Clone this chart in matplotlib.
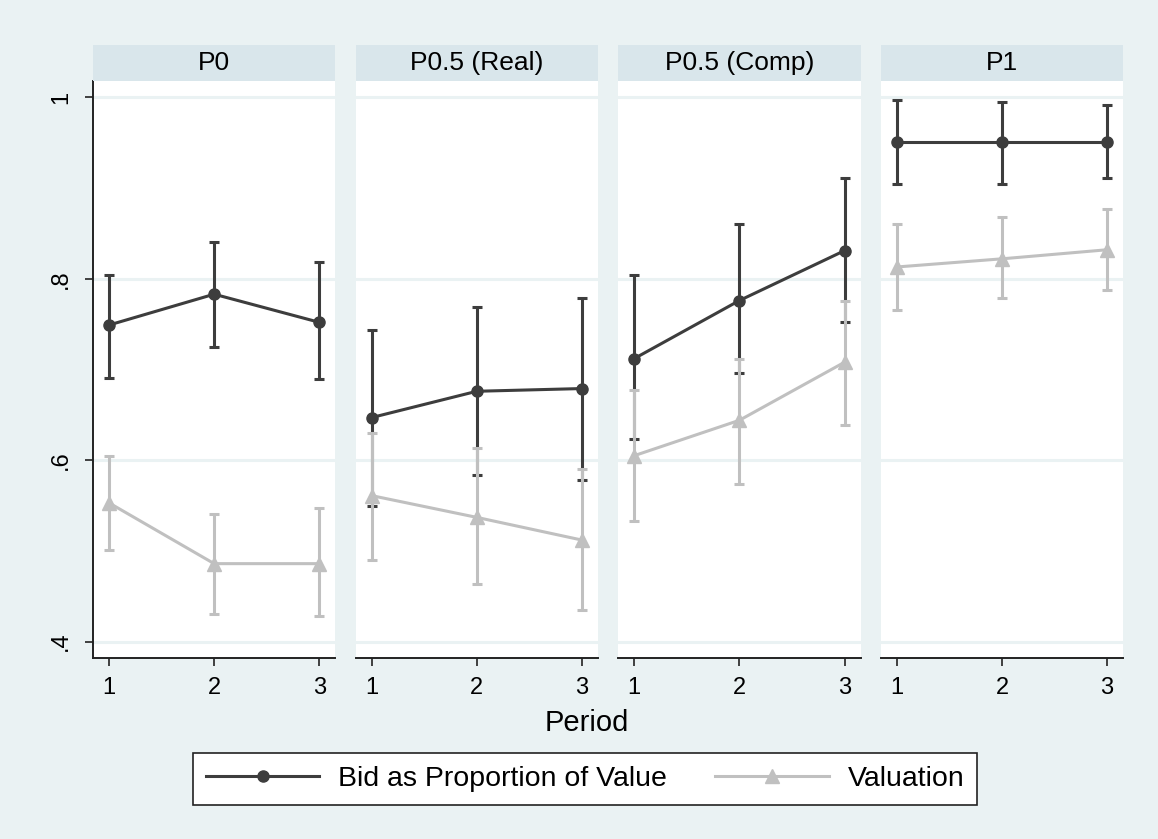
import numpy as np
import matplotlib.pyplot as plt
from matplotlib.patches import Rectangle
from matplotlib.lines import Line2D

plt.rcParams['font.family'] = ['Liberation Sans', 'DejaVu Sans']

# Mean bid / valuation by period, with 95% intervals, for each treatment
panels = ["P0", "P0.5 (Real)", "P0.5 (Comp)", "P1"]
periods = [1, 2, 3]

bid_mean = [
    [0.749, 0.783, 0.752],
    [0.647, 0.676, 0.679],
    [0.712, 0.776, 0.831],
    [0.951, 0.951, 0.951],
]
bid_lo = [
    [0.691, 0.725, 0.689],
    [0.550, 0.584, 0.578],
    [0.623, 0.696, 0.752],
    [0.905, 0.904, 0.911],
]
bid_hi = [
    [0.804, 0.840, 0.819],
    [0.743, 0.769, 0.779],
    [0.804, 0.860, 0.911],
    [0.997, 0.995, 0.992],
]

val_mean = [
    [0.553, 0.486, 0.486],
    [0.561, 0.537, 0.512],
    [0.605, 0.644, 0.708],
    [0.813, 0.822, 0.832],
]
val_lo = [
    [0.501, 0.430, 0.428],
    [0.490, 0.464, 0.435],
    [0.533, 0.574, 0.639],
    [0.766, 0.779, 0.788],
]
val_hi = [
    [0.605, 0.541, 0.547],
    [0.630, 0.613, 0.590],
    [0.677, 0.712, 0.776],
    [0.860, 0.868, 0.877],
]

BG = "#eaf2f3"
STRIP = "#d9e6eb"
DARK = "#3d3d3d"
LIGHT = "#c0c0c0"
LW = 2.2

W, H = 1158, 839
fig = plt.figure(figsize=(W / 100, H / 100), dpi=100)
fig.patch.set_facecolor(BG)

left0, pw, gap = 93, 242.3, 20.3
top, bottom = 81, 658
strip_top = 45

for i, name in enumerate(panels):
    x0 = left0 + i * (pw + gap)
    ax = fig.add_axes([x0 / W, 1 - bottom / H, pw / W, (bottom - top) / H])
    ax.set_facecolor("white")
    ax.set_xlim(0.848, 3.152)
    ax.set_ylim(0.382, 1.018)
    for v in [0.4, 0.6, 0.8, 1.0]:
        ax.axhline(v, color=BG, lw=2.2, zorder=0)

    # bids first, valuations drawn on top
    b = np.array(bid_mean[i])
    ax.errorbar(periods, b, yerr=[b - np.array(bid_lo[i]), np.array(bid_hi[i]) - b],
                color=DARK, lw=LW, elinewidth=LW, capsize=3.8, capthick=LW,
                marker="o", markersize=8, zorder=3)
    v_ = np.array(val_mean[i])
    ax.errorbar(periods, v_, yerr=[v_ - np.array(val_lo[i]), np.array(val_hi[i]) - v_],
                color=LIGHT, lw=LW, elinewidth=LW, capsize=3.8, capthick=LW,
                marker="^", markersize=9.5, zorder=4)

    for s in ["top", "right"]:
        ax.spines[s].set_visible(False)
    ax.spines["bottom"].set_color("#222222")
    ax.spines["bottom"].set_linewidth(1.4)
    ax.set_xticks(periods)
    ax.tick_params(axis="x", length=6, width=1.2, color="#222222", labelsize=17, pad=8)
    if i == 0:
        ax.spines["left"].set_color("#222222")
        ax.spines["left"].set_linewidth(1.4)
        ax.set_yticks([0.4, 0.6, 0.8, 1.0])
        ax.set_yticklabels([".4", ".6", ".8", "1"], rotation=90, va="center")
        ax.tick_params(axis="y", length=6, width=1.2, color="#222222", labelsize=17, pad=9)
    else:
        ax.spines["left"].set_visible(False)
        ax.set_yticks([])

    # facet header strip
    fig.patches.append(Rectangle((x0 / W, 1 - top / H), pw / W, (top - strip_top) / H,
                                 transform=fig.transFigure, facecolor=STRIP,
                                 edgecolor="none"))
    fig.text((x0 + pw / 2) / W, 1 - (top + strip_top) / 2 / H, name,
             ha="center", va="center", fontsize=19)

fig.text(587 / W, 1 - 723 / H, "Period", ha="center", va="center", fontsize=21)

handles = [
    Line2D([], [], color=DARK, lw=LW, marker="o", markersize=8),
    Line2D([], [], color=LIGHT, lw=LW, marker="^", markersize=9.5),
]
leg = fig.legend(handles, ["Bid as Proportion of Value", "Valuation"],
                 loc="center", bbox_to_anchor=(585 / W, 1 - 779 / H), ncol=2,
                 fontsize=20.5, frameon=True, fancybox=False, handlelength=4.0,
                 columnspacing=1.7, borderpad=0.45, handletextpad=0.65)
leg.get_frame().set_edgecolor("#222222")
leg.get_frame().set_facecolor("white")
leg.get_frame().set_alpha(1)
leg.get_frame().set_linewidth(1.2)

fig.savefig("out.png", dpi=100, facecolor=BG)
